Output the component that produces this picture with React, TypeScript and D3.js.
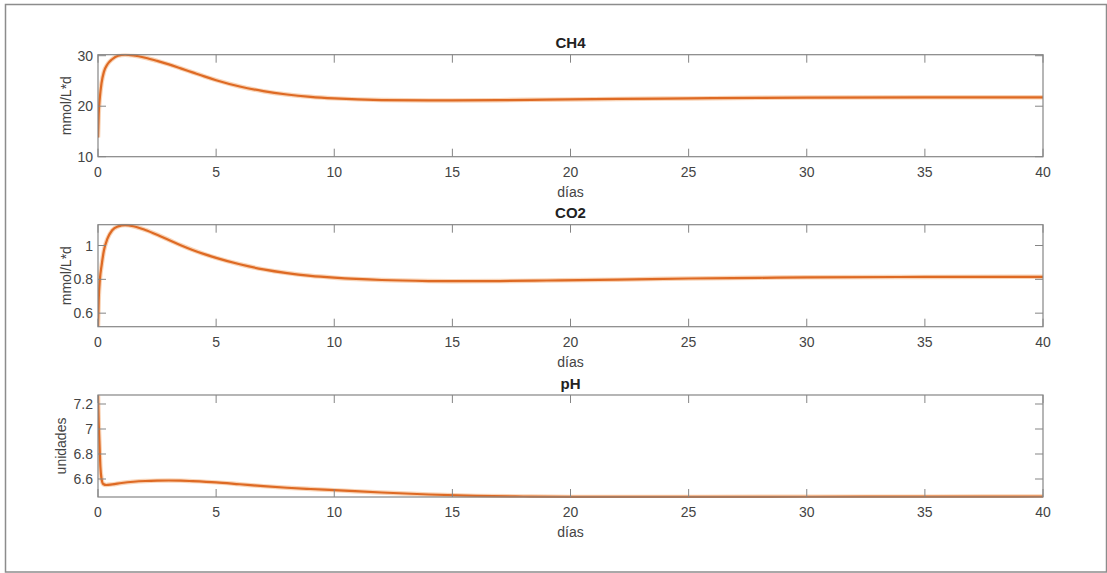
import React from "react";
import * as d3 from "d3";

// ---- data ----
const xTicks = [0, 5, 10, 15, 20, 25, 30, 35, 40];

const ch4T = [0, 0.03, 0.08, 0.15, 0.25, 0.4, 0.6, 0.85, 1.15, 1.5, 2, 2.5, 3, 3.5, 4, 4.5, 5, 6, 7, 8, 9, 10, 12, 14, 15, 17, 19, 22, 25, 28, 30, 35, 40];
const ch4V = [13.8, 18.5, 21.8, 24.6, 26.8, 28.3, 29.3, 30.0, 30.2, 30.05, 29.6, 28.98, 28.28, 27.5, 26.7, 25.9, 25.15, 23.9, 22.98, 22.32, 21.86, 21.55, 21.22, 21.15, 21.15, 21.2, 21.3, 21.45, 21.55, 21.65, 21.7, 21.75, 21.75];
const ch4YTicks = [10, 20, 30];

const co2T = [0, 0.03, 0.08, 0.15, 0.25, 0.4, 0.6, 0.85, 1.15, 1.5, 2, 2.5, 3, 3.5, 4, 4.5, 5, 6, 7, 8, 9, 10, 12, 14, 15, 17, 19, 22, 25, 28, 30, 35, 40];
const co2V = [0.52, 0.68, 0.8, 0.88, 0.97, 1.04, 1.09, 1.113, 1.121, 1.114, 1.092, 1.064, 1.033, 1.002, 0.974, 0.949, 0.927, 0.889, 0.859, 0.837, 0.821, 0.81, 0.796, 0.79, 0.789, 0.79, 0.793, 0.798, 0.805, 0.809, 0.812, 0.814, 0.815];
const co2YTicks = [0.6, 0.8, 1];

const phT = [0, 0.03, 0.06, 0.1, 0.15, 0.22, 0.35, 0.6, 1, 1.5, 2, 2.5, 3, 3.5, 4, 5, 6, 7, 8, 9, 10, 12, 14, 16, 18, 20, 25, 30, 35, 40];
const phV = [7.27, 7.05, 6.9, 6.7, 6.6, 6.56, 6.552, 6.557, 6.568, 6.578, 6.584, 6.587, 6.588, 6.587, 6.583, 6.573, 6.558, 6.543, 6.53, 6.52, 6.511, 6.492, 6.476, 6.465, 6.46, 6.457, 6.457, 6.458, 6.459, 6.46];
const phYTicks = [6.6, 6.8, 7, 7.2];

const titles = ["CH4", "CO2", "pH"];
const yLabels = ["mmol/L*d", "mmol/L*d", "unidades"];
const xLabel = "días";

// ---- layout ----
const W = 1107;
const H = 573;
const left = 98;
const right = 1043;
const panels = [
  { top: 54.7, bottom: 156.7, domain: [10, 30.2], t: ch4T, v: ch4V, ticks: ch4YTicks, ylx: 71 },
  { top: 224.7, bottom: 326.7, domain: [0.52, 1.123], t: co2T, v: co2V, ticks: co2YTicks, ylx: 71 },
  { top: 395, bottom: 497, domain: [6.456, 7.272], t: phT, v: phV, ticks: phYTicks, ylx: 66 },
];

const AX = "#858585";
const TXT = "#444";
const LINE = "#DE6A24";
const FONT = "Arial, 'Liberation Sans', Helvetica, sans-serif";
const TL = 8;

function Panel({ p, i }: { p: any; i: number }) {
  const x = d3.scaleLinear().domain([0, 40]).range([left, right]);
  const y = d3.scaleLinear().domain(p.domain).range([p.bottom, p.top]);
  const pts: [number, number][] = p.t.map((t: number, k: number) => [t, p.v[k]]);
  const line = d3
    .line<[number, number]>()
    .x((d) => x(d[0]))
    .y((d) => y(d[1]))
    .curve(d3.curveMonotoneX);
  const clipId = `clip${i}`;
  return (
    <g>
      <defs>
        <clipPath id={clipId}>
          <rect x={left} y={p.top - 1} width={right - left} height={p.bottom - p.top + 2} />
        </clipPath>
      </defs>
      <rect x={left} y={p.top} width={right - left} height={p.bottom - p.top} fill="#fff" />
      <path d={line(pts) || ""} fill="none" stroke="#F2A060" strokeOpacity={0.45} strokeWidth={4.5} clipPath={`url(#${clipId})`} />
      <path d={line(pts) || ""} fill="none" stroke={LINE} strokeWidth={2.2} clipPath={`url(#${clipId})`} />
      <rect x={left} y={p.top} width={right - left} height={p.bottom - p.top} fill="none" stroke={AX} strokeWidth={1.2} />
      {xTicks.map((t) => (
        <g key={"x" + t}>
          <line x1={x(t)} x2={x(t)} y1={p.bottom} y2={p.bottom - TL} stroke={AX} strokeWidth={1} />
          <line x1={x(t)} x2={x(t)} y1={p.top} y2={p.top + TL} stroke={AX} strokeWidth={1} />
          <text x={x(t)} y={p.bottom + 20} textAnchor="middle" fontSize={14} fill={TXT} fontFamily={FONT}>
            {t}
          </text>
        </g>
      ))}
      {p.ticks.map((t: number) => (
        <g key={"y" + t}>
          <line x1={left} x2={left + TL} y1={y(t)} y2={y(t)} stroke={AX} strokeWidth={1} />
          <line x1={right} x2={right - TL} y1={y(t)} y2={y(t)} stroke={AX} strokeWidth={1} />
          <text x={left - 5} y={y(t)} dy="0.36em" textAnchor="end" fontSize={14} fill={TXT} fontFamily={FONT}>
            {String(t)}
          </text>
        </g>
      ))}
      <text x={(left + right) / 2} y={p.top - 6.5} textAnchor="middle" fontSize={15} fontWeight="bold" fill="#222" fontFamily={FONT}>
        {titles[i]}
      </text>
      <text x={(left + right) / 2} y={p.bottom + 40} textAnchor="middle" fontSize={14} fill={TXT} fontFamily={FONT}>
        {xLabel}
      </text>
      <text
        transform={`translate(${p.ylx},${(p.top + p.bottom) / 2}) rotate(-90)`}
        textAnchor="middle"
        fontSize={14}
        fill={TXT}
        fontFamily={FONT}
      >
        {yLabels[i]}
      </text>
    </g>
  );
}

export default function App() {
  return (
    <svg
      width={W}
      height={H}
      style={{ position: "absolute", left: 0, top: 0, background: "#fff" }}
    >
      <rect x={0} y={0} width={W} height={H} fill="#fff" />
      <rect x={5.5} y={4.5} width={1101} height={567.5} fill="none" stroke="#8c8c8c" strokeWidth={1.5} />
      {panels.map((p, i) => (
        <Panel key={i} p={p} i={i} />
      ))}
    </svg>
  );
}
